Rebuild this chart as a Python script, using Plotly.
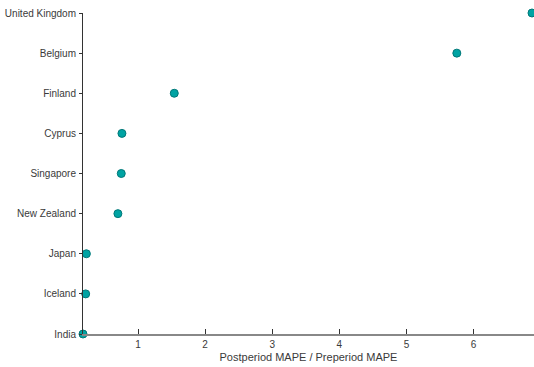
import plotly.graph_objects as go

countries = ["India", "Iceland", "Japan", "New Zealand", "Singapore", "Cyprus",
             "Finland", "Belgium", "United Kingdom"]
ratio = [0.18, 0.22, 0.23, 0.70, 0.75, 0.76, 1.54, 5.75, 6.87]
x_ticks = [1, 2, 3, 4, 5, 6]

fig = go.Figure(go.Scatter(
    x=ratio, y=countries, mode="markers",
    marker=dict(size=8, color="#00a3a3", line=dict(color="#007878", width=1)),
    cliponaxis=False, showlegend=False, hoverinfo="x+y",
))

fig.update_layout(
    width=534, height=367,
    margin=dict(l=83, r=0, t=13, b=33, autoexpand=False),
    paper_bgcolor="white", plot_bgcolor="white",
    font=dict(family="Liberation Sans, Arial, sans-serif", size=10, color="#3a3a3a"),
    xaxis=dict(
        range=[0.18, 6.9], tickvals=x_ticks, ticks="inside", ticklen=5,
        tickcolor="#333333", showgrid=False, zeroline=False, automargin=False,
        showline=True, linecolor="#888888", linewidth=2,
        title=dict(text="Postperiod MAPE / Preperiod MAPE", font=dict(size=11), standoff=4),
    ),
    yaxis=dict(
        categoryorder="array", categoryarray=countries, automargin=False,
        range=[0, 8], ticks="outside", ticklen=3, tickcolor="#333333",
        showgrid=False, zeroline=False, showline=True, linecolor="#333333", linewidth=1,
        ticklabelstandoff=1,
    ),
)

fig.write_html(
    "out.html",
    config={"displayModeBar": False},
    post_script="document.body.style.margin='0';document.body.style.overflow='hidden';",
)
